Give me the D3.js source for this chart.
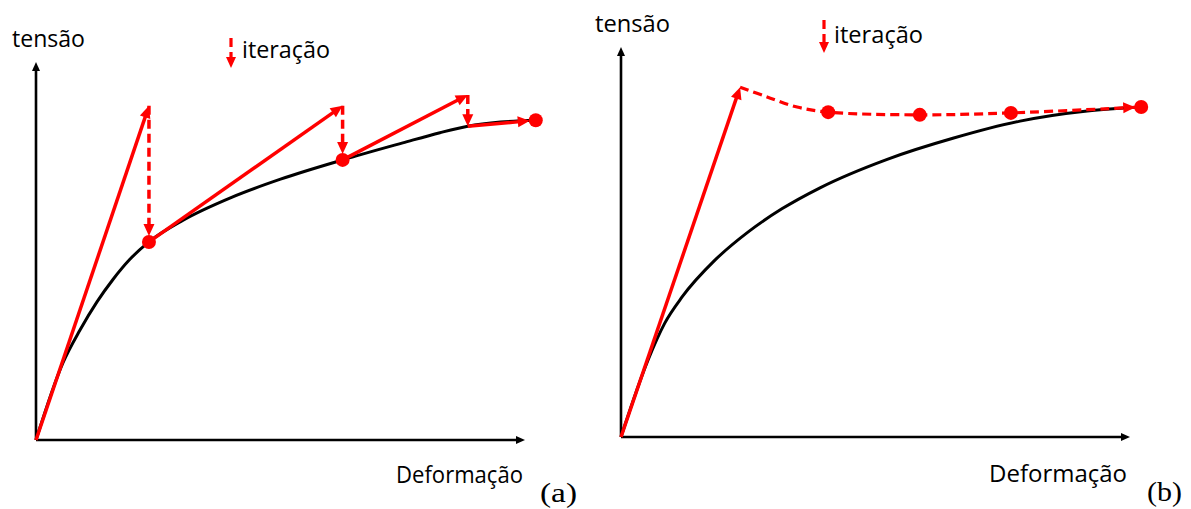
<!DOCTYPE html>
<html>
<head>
<meta charset="utf-8">
<script src="https://cdn.jsdelivr.net/npm/d3@7"></script>
<style>
  html, body { margin: 0; padding: 0; background: #fff; }
  svg { display: block; }
  .lbl { font-family: "Open Sans", "Noto Sans", sans-serif; fill: #000; }
  .tag { font-family: "Liberation Serif", "Times New Roman", serif; fill: #000; }
</style>
</head>
<body>
<script>
// ---- Data (normalized units: 0–100 along each axis) ----
// Material stress–strain curve, panel (a)
const curveA = [[0,0],[5.5,20.4],[9.0,29.1],[12.5,36.6],[15.7,42.4],[19.2,47.8],[23.1,52.4],
                [30,58.1],[40,64.2],[50,69.0],[62.7,74.1],[75,78.6],[82.6,81.3],[88.3,83.0],
                [95,84.1],[102.2,84.6]];
// Panel (a): tangent-predicted states and their corrected states on the curve
const startA   = [0, 0];
const predictA = [[23.1,88.4],[62.7,88.4],[88.3,91.3]];
const correctA = [[23.1,52.4],[62.7,74.1],[88.3,83.0]];
const finalA   = [102.2, 84.6];
// Corrected states marked with a dot
const dotsA = [[23.1,52.4],[62.7,74.1],[102.2,84.6]];

// Material stress–strain curve, panel (b)
const curveB = [[0,0],[5.3,19.7],[8.6,29.2],[12.0,35.9],[18.5,45.4],[25.0,52.6],[31.6,58.5],
                [39.1,63.9],[52.3,71.2],[65.2,76.6],[78.4,81.0],[91.6,83.6],[102.2,84.6]];
// Panel (b): initial elastic step and the iteration path
const tangentB = [[0,0],[23.4,89.7]];
const iterPathB = [[23.4,89.7],[28.7,87.2],[34.6,84.6],[40.7,83.3],[58.7,82.6],[76.6,83.1],[102.2,84.6]];
const dotsB = [[40.7,83.3],[58.7,82.6],[76.6,83.1],[102.2,84.6]];

// Text
const yLabel = "tensão";
const xLabel = "Deformação";
const legendLabel = "iteração";
const panelTags = ["(a)", "(b)"];

// ---- Layout ----
const W = 1191, H = 509;
const RED = "#ff0000";
const DOT_R = 7;
const DASH = "9,5";

const svg = d3.select("body").append("svg").attr("width", W).attr("height", H);

const panels = [
  { x0: 36,  x1: 525,  y0: 440, y1: 62,
    yLab: [12, 47, 73], legend: [231, 38, 68], legLab: [242, 58, 88],
    xLab: [396, 483, 127], tag: [540, 502, 37] },
  { x0: 621, x1: 1130, y0: 437, y1: 47,
    yLab: [595, 32, 75], legend: [824, 20, 53], legLab: [834, 43, 89],
    xLab: [989, 482, 138], tag: [1147, 501, 35] }
];

function arrowHead(g, tip, dir, len, half, color) {
  const [ux, uy] = dir, nx = -uy, ny = ux;
  const bx = tip[0] - ux * len, by = tip[1] - uy * len;
  g.append("path")
    .attr("d", `M${tip[0]},${tip[1]}L${bx + nx * half},${by + ny * half}L${bx - nx * half},${by - ny * half}Z`)
    .attr("fill", color);
}

// Straight arrow in pixel space; gap pulls the tip back (e.g. to a dot's edge)
function arrow(g, p0, p1, opts = {}) {
  const color = opts.color || RED, w = opts.width || 3.5;
  const len = opts.len || 12, half = opts.half || 5.5, gap = opts.gap || 0;
  const dx = p1[0] - p0[0], dy = p1[1] - p0[1], d = Math.hypot(dx, dy);
  const u = [dx / d, dy / d];
  const tip = [p1[0] - u[0] * gap, p1[1] - u[1] * gap];
  const end = [tip[0] - u[0] * (len - 2), tip[1] - u[1] * (len - 2)];
  g.append("line")
    .attr("x1", p0[0]).attr("y1", p0[1]).attr("x2", end[0]).attr("y2", end[1])
    .attr("stroke", color).attr("stroke-width", w)
    .attr("stroke-dasharray", opts.dashed ? DASH : null);
  arrowHead(g, tip, u, len, half, color);
}

function drawFrame(g, p, x, y) {
  // Axes with arrowheads
  arrow(g, [x(0), y(0)], [x(100), y(0)], { color: "#000", width: 2.6, len: 9, half: 4 });
  arrow(g, [x(0), y(0)], [x(0), y(100)], { color: "#000", width: 2.6, len: 9, half: 4 });

  g.append("text").attr("class", "lbl").attr("x", p.yLab[0]).attr("y", p.yLab[1])
    .attr("font-size", 23).attr("textLength", p.yLab[2]).attr("lengthAdjust", "spacingAndGlyphs")
    .text(yLabel);
  g.append("text").attr("class", "lbl").attr("x", p.xLab[0]).attr("y", p.xLab[1])
    .attr("font-size", 23).attr("textLength", p.xLab[2]).attr("lengthAdjust", "spacingAndGlyphs")
    .text(xLabel);
  // Legend: dashed arrow = one iteration
  arrow(g, [p.legend[0], p.legend[1]], [p.legend[0], p.legend[2]], { dashed: true, width: 3.2, len: 11, half: 5 });
  g.append("text").attr("class", "lbl").attr("x", p.legLab[0]).attr("y", p.legLab[1])
    .attr("font-size", 23).attr("textLength", p.legLab[2]).attr("lengthAdjust", "spacingAndGlyphs")
    .text(legendLabel);
}

// ---- Panel (a): Newton–Raphson style iterations ----
(function () {
  const p = panels[0];
  const x = d3.scaleLinear().domain([0, 100]).range([p.x0, p.x1]);
  const y = d3.scaleLinear().domain([0, 100]).range([p.y0, p.y1]);
  const P = d => [x(d[0]), y(d[1])];
  const g = svg.append("g");

  drawFrame(g, p, x, y);

  g.append("path").datum(curveA)
    .attr("d", d3.line().x(d => x(d[0])).y(d => y(d[1])).curve(d3.curveMonotoneX))
    .attr("fill", "none").attr("stroke", "#000").attr("stroke-width", 3);

  let from = startA;
  predictA.forEach((pr, i) => {
    arrow(g, P(from), P(pr));
    const hasDot = dotsA.some(d => d[0] === correctA[i][0] && d[1] === correctA[i][1]);
    arrow(g, P(pr), P(correctA[i]), { dashed: true, gap: hasDot ? DOT_R - 1 : 0 });
    from = correctA[i];
  });
  arrow(g, P(from), P(finalA), { gap: DOT_R - 1 });

  g.selectAll("circle.dot").data(dotsA).join("circle").attr("class", "dot")
    .attr("cx", d => x(d[0])).attr("cy", d => y(d[1])).attr("r", DOT_R).attr("fill", RED);

  g.append("text").attr("class", "tag").attr("x", p.tag[0]).attr("y", p.tag[1])
    .attr("font-size", 28).attr("textLength", p.tag[2]).attr("lengthAdjust", "spacingAndGlyphs")
    .text(panelTags[0]);
})();

// ---- Panel (b): iterations with the initial stiffness ----
(function () {
  const p = panels[1];
  const x = d3.scaleLinear().domain([0, 100]).range([p.x0, p.x1]);
  const y = d3.scaleLinear().domain([0, 100]).range([p.y0, p.y1]);
  const P = d => [x(d[0]), y(d[1])];
  const g = svg.append("g");

  drawFrame(g, p, x, y);

  g.append("path").datum(curveB)
    .attr("d", d3.line().x(d => x(d[0])).y(d => y(d[1])).curve(d3.curveMonotoneX))
    .attr("fill", "none").attr("stroke", "#000").attr("stroke-width", 3);

  arrow(g, P(tangentB[0]), P(tangentB[1]));

  g.append("path").datum(iterPathB)
    .attr("d", d3.line().x(d => x(d[0])).y(d => y(d[1])).curve(d3.curveCatmullRom.alpha(0.5)))
    .attr("fill", "none").attr("stroke", RED).attr("stroke-width", 3.2)
    .attr("stroke-dasharray", DASH);
  const n = iterPathB.length;
  const a = P(iterPathB[n - 2]), b = P(iterPathB[n - 1]);
  const dd = Math.hypot(b[0] - a[0], b[1] - a[1]);
  const u = [(b[0] - a[0]) / dd, (b[1] - a[1]) / dd];
  arrowHead(g, [b[0] - u[0] * (DOT_R - 1), b[1] - u[1] * (DOT_R - 1)], u, 12, 5.5, RED);

  g.selectAll("circle.dot").data(dotsB).join("circle").attr("class", "dot")
    .attr("cx", d => x(d[0])).attr("cy", d => y(d[1])).attr("r", DOT_R).attr("fill", RED);

  g.append("text").attr("class", "tag").attr("x", p.tag[0]).attr("y", p.tag[1])
    .attr("font-size", 28).attr("textLength", p.tag[2]).attr("lengthAdjust", "spacingAndGlyphs")
    .text(panelTags[1]);
})();
</script>
</body>
</html>
